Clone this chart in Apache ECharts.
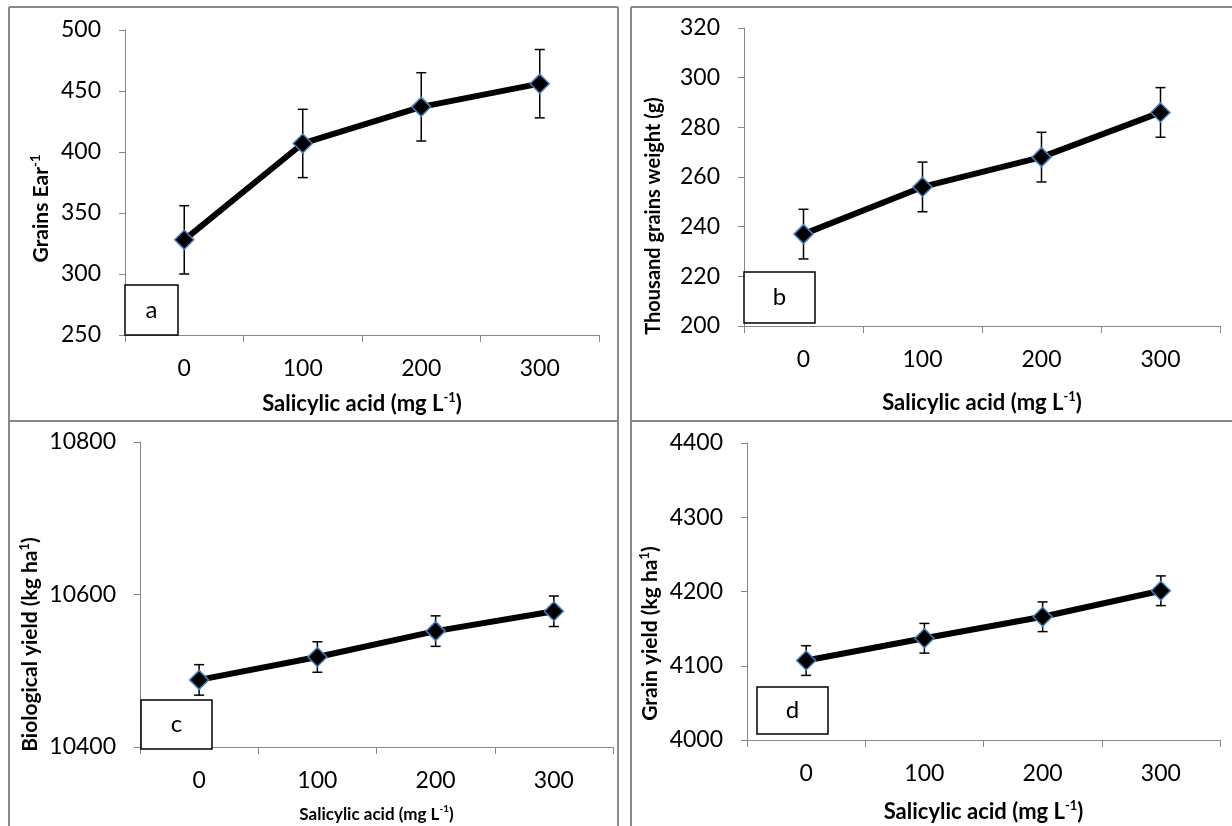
<!DOCTYPE html>
<html>
<head>
<meta charset="utf-8">
<title>Salicylic acid</title>
<script src="https://cdn.jsdelivr.net/npm/echarts@6/dist/echarts.min.js"></script>
<style>
    html, body { margin: 0; padding: 0; background: #fff; }
    #main { width: 1232px; height: 826px; }
</style>
</head>
<body>
<div id="main"></div>
<script>
// x categories (mg L-1)
var doses = ['0', '100', '200', '300'];

// a: grains per ear
var grainsEar = [328, 407, 437, 456];
var grainsEarErr = [28, 28, 28, 28];
var grainsEarTicks = [250, 500, 50];

// b: thousand grains weight
var grainWeight = [237, 256, 268, 286];
var grainWeightErr = [10, 10, 10, 10];
var grainWeightTicks = [200, 320, 20];

// c: biological yield
var bioYield = [10488, 10518, 10552, 10578];
var bioYieldErr = [20, 20, 20, 20];
var bioYieldTicks = [10400, 10800, 200];

// d: grain yield
var grainYield = [4107, 4137, 4166, 4201];
var grainYieldErr = [20, 20, 20, 20];
var grainYieldTicks = [4000, 4400, 100];

var FONT = 'Lato, "Open Sans", sans-serif';
var AXIS_GRAY = '#868686';
var BORDER_GRAY = '#888888';

var panels = [
    {
        tag: 'a', values: grainsEar, errs: grainsEarErr, ticks: grainsEarTicks,
        grid: {left: 125, top: 30, width: 474, height: 305},
        yName: 'Grains Ear{sup|-1}', yGap: 71, yShift: 52, ySize: 21,
        xName: 'Salicylic acid (mg L{sup|-1})', xGap: 56, xSize: 22,
        box: [125, 285, 53, 50]
    },
    {
        tag: 'b', values: grainWeight, errs: grainWeightErr, ticks: grainWeightTicks,
        grid: {left: 744, top: 28, width: 476, height: 298},
        yName: 'Thousand grains weight (g)', yGap: 78, yShift: 78, ySize: 20,
        xName: 'Salicylic acid (mg L{sup|-1})', xGap: 64, xSize: 22,
        box: [744, 272, 71, 51]
    },
    {
        tag: 'c', values: bioYield, errs: bioYieldErr, ticks: bioYieldTicks,
        grid: {left: 140, top: 442, width: 473, height: 307},
        yName: 'Biological yield (kg ha{sup|1})', yGap: 97, yShift: 100, ySize: 21,
        xName: 'Salicylic acid (mg L{sup|-1})', xGap: 57, xSize: 17,
        box: [141, 700, 71, 49]
    },
    {
        tag: 'd', values: grainYield, errs: grainYieldErr, ticks: grainYieldTicks,
        grid: {left: 747, top: 443, width: 473, height: 299},
        yName: 'Grain yield (kg ha{sup|1})', yGap: 84, yShift: 84, ySize: 21,
        xName: 'Salicylic acid (mg L{sup|-1})', xGap: 59, xSize: 22,
        box: [757, 687, 71, 47]
    }
];

/** error bar drawn through the axes */
function renderErrorBar(params, api) {
    var lo = api.coord([api.value(0), api.value(1)]);
    var hi = api.coord([api.value(0), api.value(2)]);
    var cap = 5;
    var st = {stroke: '#000', lineWidth: 1.5};
    return {
        type: 'group',
        children: [
            {type: 'line', shape: {x1: lo[0], y1: lo[1], x2: hi[0], y2: hi[1]}, style: st},
            {type: 'line', shape: {x1: lo[0] - cap, y1: lo[1], x2: lo[0] + cap, y2: lo[1]}, style: st},
            {type: 'line', shape: {x1: hi[0] - cap, y1: hi[1], x2: hi[0] + cap, y2: hi[1]}, style: st}
        ]
    };
}

var grids = [], xAxes = [], yAxes = [], series = [], graphics = [];

for (var i = 0; i < panels.length; i++) {
    var p = panels[i];
    grids.push(p.grid);

    xAxes.push({
        type: 'category',
        gridIndex: i,
        data: doses,
        boundaryGap: true,
        name: p.xName,
        nameLocation: 'middle',
        nameGap: p.xGap,
        nameTextStyle: {
            color: '#000', fontFamily: FONT, fontWeight: 'bold', fontSize: p.xSize,
            lineHeight: p.xSize + 4,
            rich: {sup: {fontFamily: FONT, fontWeight: 'bold', fontSize: Math.round(p.xSize * 0.6), verticalAlign: 'top', color: '#000'}}
        },
        axisLine: {lineStyle: {color: AXIS_GRAY, width: 1}},
        axisTick: {show: true, length: 7, lineStyle: {color: AXIS_GRAY}},
        axisLabel: {color: '#000', fontFamily: FONT, fontSize: 23, margin: 22},
        splitLine: {show: false}
    });

    yAxes.push({
        type: 'value',
        gridIndex: i,
        min: p.ticks[0],
        max: p.ticks[1],
        interval: p.ticks[2],
        name: p.yName,
        nameLocation: 'middle',
        nameRotate: 90,
        nameGap: p.yGap,
        nameTextStyle: {
            color: '#000', fontFamily: FONT, fontWeight: 'bold', fontSize: p.ySize,
            lineHeight: p.ySize + 4,
            padding: [0, p.yShift, 0, 0],
            rich: {sup: {fontFamily: FONT, fontWeight: 'bold', fontSize: 13, verticalAlign: 'top', color: '#000'}}
        },
        axisLine: {show: true, lineStyle: {color: AXIS_GRAY, width: 1}},
        axisTick: {show: true, length: 6, lineStyle: {color: AXIS_GRAY}},
        axisLabel: {
            color: '#000', fontFamily: FONT, fontSize: 23, margin: 24,
            formatter: function (v) { return String(v); }
        },
        splitLine: {show: false}
    });

    var bars = [];
    for (var k = 0; k < p.values.length; k++) {
        bars.push([k, p.values[k] - p.errs[k], p.values[k] + p.errs[k]]);
    }
    series.push({
        type: 'custom',
        xAxisIndex: i,
        yAxisIndex: i,
        z: 1,
        renderItem: renderErrorBar,
        encode: {x: 0, y: [1, 2]},
        data: bars,
        silent: true
    });
    series.push({
        type: 'line',
        xAxisIndex: i,
        yAxisIndex: i,
        z: 3,
        data: p.values,
        symbol: 'diamond',
        symbolSize: 19,
        lineStyle: {color: '#000', width: 6},
        itemStyle: {color: '#000', borderColor: '#4a7ebb', borderWidth: 1.5},
        animation: false
    });

    // panel letter box
    graphics.push({
        type: 'group',
        children: [
            {type: 'rect', shape: {x: p.box[0], y: p.box[1], width: p.box[2], height: p.box[3]},
                style: {fill: '#fff', stroke: '#000', lineWidth: 1.5}, z: 10},
            {type: 'text', x: p.box[0] + p.box[2] / 2, y: p.box[1] + p.box[3] / 2,
                style: {text: p.tag, fontFamily: FONT, fontSize: 24, fill: '#000', align: 'center', verticalAlign: 'middle'}, z: 11}
        ]
    });
}

// panel frame lines
var frame = [
    [9, 7, 618, 7], [9, 7, 9, 826], [618, 7, 618, 826],
    [631, 7, 1232, 7], [631, 7, 631, 826],
    [9, 421, 618, 421], [631, 421, 1232, 421]
];
for (var j = 0; j < frame.length; j++) {
    graphics.push({
        type: 'line',
        shape: {x1: frame[j][0], y1: frame[j][1], x2: frame[j][2], y2: frame[j][3]},
        style: {stroke: BORDER_GRAY, lineWidth: 2}
    });
}

var chart = echarts.init(document.getElementById('main'));
chart.setOption({
    animation: false,
    backgroundColor: '#fff',
    grid: grids,
    xAxis: xAxes,
    yAxis: yAxes,
    series: series,
    graphic: graphics
});
</script>
</body>
</html>
